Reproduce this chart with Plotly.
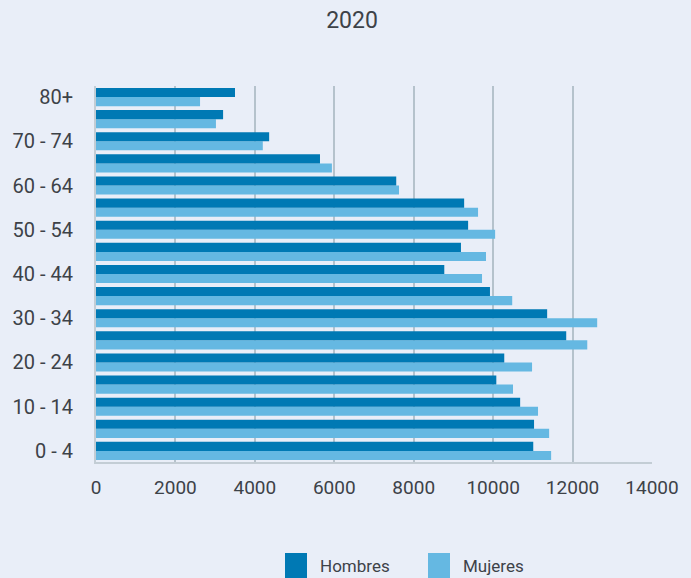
import plotly.graph_objects as go

categories = ["0 - 4", "5 - 9", "10 - 14", "15 - 19", "20 - 24", "25 - 29", "30 - 34",
              "35 - 39", "40 - 44", "45 - 49", "50 - 54", "55 - 59", "60 - 64",
              "65 - 69", "70 - 74", "75 - 79", "80+"]
hombres = [11010, 11030, 10680, 10080, 10280, 11840, 11360, 9920, 8770, 9190,
           9370, 9270, 7560, 5640, 4360, 3200, 3500]
mujeres = [11460, 11410, 11130, 10500, 10980, 12370, 12620, 10480, 9720, 9820,
           10050, 9620, 7630, 5940, 4200, 3020, 2620]
tick_labels = categories[::2]
x_ticks = [0, 2000, 4000, 6000, 8000, 10000, 12000, 14000]

BG = "#E9EEF8"
DARK = "#0079B4"
LIGHT = "#65B8E2"
TXT = "#3d4248"
FONT = "Roboto, sans-serif"

W, H = 691, 578
L, R, T, B = 96, 39, 86, 116
PW, PH = W - L - R, H - T - B


def px(xp):
    return (xp - L) / PW


def py(yp):
    return (H - B - yp) / PH


fig = go.Figure()
fig.add_trace(go.Bar(y=categories, x=mujeres, name="Mujeres", orientation="h",
                     marker=dict(color=LIGHT, line=dict(width=0))))
fig.add_trace(go.Bar(y=categories, x=hombres, name="Hombres", orientation="h",
                     marker=dict(color=DARK, line=dict(width=0))))

# custom legend (large squares like the reference)
legend_items = [("Hombres", DARK, 285), ("Mujeres", LIGHT, 428)]
for name, col, x0 in legend_items:
    fig.add_shape(type="rect", xref="paper", yref="paper",
                  x0=px(x0), x1=px(x0 + 22), y0=py(578), y1=py(553),
                  fillcolor=col, line=dict(width=0), layer="above")
    fig.add_annotation(text=name, xref="paper", yref="paper", x=px(x0 + 33),
                       y=py(566), xanchor="left", yanchor="middle", showarrow=False,
                       font=dict(size=17, color=TXT, family=FONT))

fig.update_layout(
    width=W, height=H,
    paper_bgcolor=BG, plot_bgcolor=BG,
    font=dict(family=FONT, color=TXT, size=19),
    title=dict(text="2020", x=352 / W, xanchor="center", y=1 - 20 / H, yanchor="middle",
               font=dict(size=23, color=TXT)),
    barmode="group", bargap=0.18, bargroupgap=0,
    margin=dict(l=L, r=R, t=T, b=B, autoexpand=False),
    showlegend=False,
    xaxis=dict(range=[0, 14000], tickvals=x_ticks, ticktext=[str(v) for v in x_ticks],
               showgrid=True, gridcolor="#B5C2CC", gridwidth=2,
               zeroline=False, showline=True, linecolor="#C3CDD5", linewidth=2,
               ticks="", ticklabelstandoff=7, tickfont=dict(size=19),
               automargin=False, fixedrange=True),
    yaxis=dict(categoryorder="array", categoryarray=categories,
               tickvals=tick_labels, ticktext=tick_labels,
               showgrid=False, zeroline=False, showline=True, linecolor="#C3CDD5",
               linewidth=2, ticks="", ticklabelstandoff=17, tickfont=dict(size=20),
               range=[-0.5, 16.5], automargin=False, fixedrange=True),
)

fig.write_html("out.html", config={"displayModeBar": False},
               post_script="document.body.style.margin='0';")
